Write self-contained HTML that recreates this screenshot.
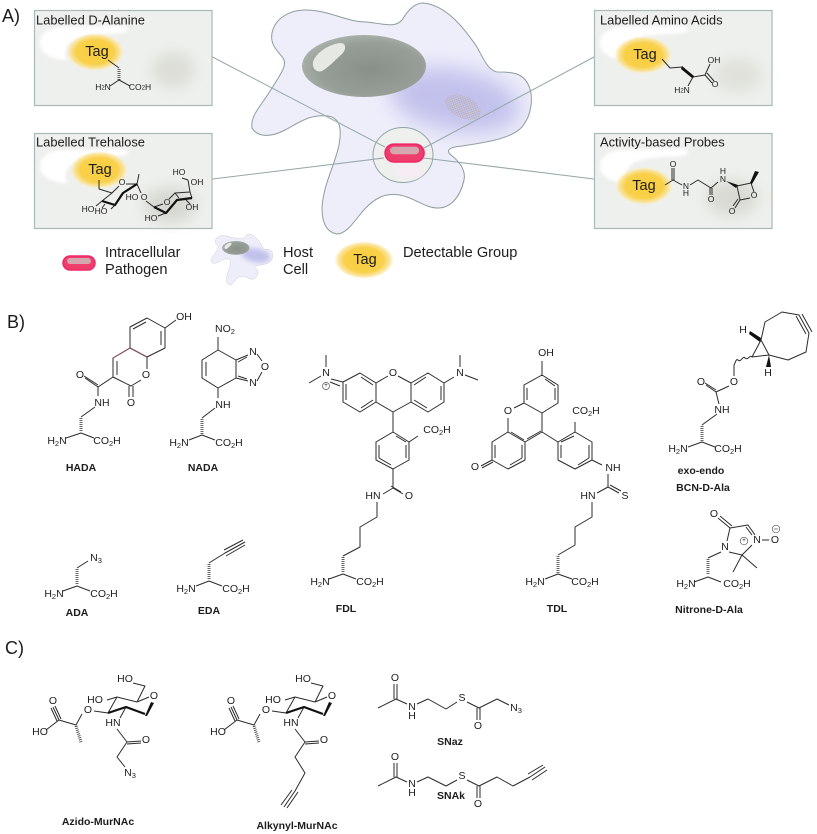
<!DOCTYPE html>
<html><head><meta charset="utf-8"><style>
html,body{margin:0;padding:0;background:#fff}
svg{display:block;filter:blur(.35px)}
text{font-family:"Liberation Sans",sans-serif;fill:#1c1c1c}
.t{font-size:10.5px;text-anchor:middle;dominant-baseline:central}
.b{font-size:10.5px;font-weight:bold;text-anchor:middle;dominant-baseline:central}
.h{font-size:12.900px}
.l{font-size:14.600px}
.n{font-size:18px}
.g{font-size:14.500px;text-anchor:middle;dominant-baseline:central}
.s{font-size:7.500px}
.m{fill:none;stroke:#2b2b2b;stroke-width:1;stroke-linejoin:round}
.w{fill:none;stroke:#111;stroke-width:2.200;stroke-linejoin:round}
.x{fill:none;stroke:#333;stroke-width:3;stroke-dasharray:.8 1.2}
.f{fill:#111;stroke:none}
.c{fill:none;stroke:#555;stroke-width:.7}
.ln{stroke:#96a8a8;stroke-width:1;fill:none}
</style></head><body>
<svg width="817" height="834" viewBox="0 0 817 834" xmlns="http://www.w3.org/2000/svg">
<defs>
<filter id="b6" x="-60%" y="-60%" width="220%" height="220%"><feGaussianBlur stdDeviation="7"/></filter>
<filter id="b12" x="-50%" y="-50%" width="200%" height="200%"><feGaussianBlur stdDeviation="11"/></filter>
<filter id="b2" x="-50%" y="-50%" width="200%" height="200%"><feGaussianBlur stdDeviation="1.500"/></filter>
<radialGradient id="tag"><stop offset="0" stop-color="#f8cd3c"/><stop offset=".65" stop-color="#f9d04a"/><stop offset=".87" stop-color="#fbe397" stop-opacity=".85"/><stop offset="1" stop-color="#fdf0c4" stop-opacity="0"/></radialGradient>
<radialGradient id="nuc" cx=".55" cy=".55" r=".6"><stop offset="0" stop-color="#899089"/><stop offset=".7" stop-color="#979e98"/><stop offset="1" stop-color="#aeb5af"/></radialGradient>
<pattern id="dots" width="3" height="3" patternUnits="userSpaceOnUse"><circle cx=".8" cy=".8" r=".6" fill="#b5a88f"/><circle cx="2.300" cy="2.300" r=".6" fill="#b5a88f"/></pattern>
<clipPath id="cc"><path d="M272 33C275 18 290 10 305 10C330 10 345 22 367 22C385 24 395 28 402 20C408 10 415 3 423 3C445 5 462 25 477 47C484 60 488 70 497 72C510 72 522 72 528 84C534 96 532 115 522 127C510 140 480 143 462 146C450 147 445 150 451 155C460 162 466 170 464 180C460 198 450 208 438 208C425 208 415 198 400 195C385 193 375 197 362 212C352 225 345 234 337 234C325 232 322 220 322 208C323 185 335 165 339 145C342 128 340 118 328 116C310 114 300 122 285 130C272 137 258 138 252 128C250 115 262 105 272 88C280 75 288 65 283 58C277 50 270 45 272 33Z"/></clipPath>
<g id="cell">
<path d="M272 33C275 18 290 10 305 10C330 10 345 22 367 22C385 24 395 28 402 20C408 10 415 3 423 3C445 5 462 25 477 47C484 60 488 70 497 72C510 72 522 72 528 84C534 96 532 115 522 127C510 140 480 143 462 146C450 147 445 150 451 155C460 162 466 170 464 180C460 198 450 208 438 208C425 208 415 198 400 195C385 193 375 197 362 212C352 225 345 234 337 234C325 232 322 220 322 208C323 185 335 165 339 145C342 128 340 118 328 116C310 114 300 122 285 130C272 137 258 138 252 128C250 115 262 105 272 88C280 75 288 65 283 58C277 50 270 45 272 33Z" fill="#eeeefb" stroke="#8d9c9c" stroke-width="1"/>
<g clip-path="url(#cc)"><ellipse cx="455" cy="100" rx="66" ry="31" transform="rotate(10 455 100)" fill="#c2c1ec" filter="url(#b12)"/></g>
<ellipse cx="364" cy="66" rx="62" ry="31" fill="url(#nuc)"/>
<path d="M313 62C316 52 330 44 340 43C347 43 346 50 342 54C335 60 328 68 322 71C316 73 312 68 313 62Z" fill="#e6e9e3"/>
</g>
<g id="box"><rect x=".5" y=".5" width="177.500" height="95" fill="#eef0ed" stroke="#a9b9b5" stroke-width="1.200"/>
<path d="M6 33C6 22 18 17 30 17L90 16Q96 17 92 22C85 25 55 22 40 30C30 36 30 45 34 50C20 50 6 45 6 33Z" fill="#fff" filter="url(#b2)"/></g>
<g id="path"><rect x="1" y="1" width="32" height="14" rx="7" fill="#ee3f6c" stroke="#f0296a" stroke-width="1.500"/><rect x="5" y="3" width="24" height="6" rx="3" fill="#d4a8ae"/></g>
</defs>

<!-- Panel A -->
<use href="#box" x="34" y="10"/><ellipse cx="173" cy="70" rx="22" ry="18" fill="#dcded7" filter="url(#b6)"/>
<use href="#box" x="34" y="133"/><ellipse cx="170" cy="205" rx="26" ry="18" fill="#d6d8d1" filter="url(#b6)"/>
<use href="#box" x="594" y="10"/><ellipse cx="738" cy="75" rx="24" ry="17" fill="#dfe1da" filter="url(#b6)"/>
<use href="#box" x="594" y="133"/><ellipse cx="732" cy="198" rx="26" ry="18" fill="#d8dad3" filter="url(#b6)"/>

<use href="#cell"/>
<ellipse cx="463" cy="107" rx="19" ry="11" transform="rotate(25 463 107)" fill="url(#dots)"/>
<ellipse cx="403" cy="155" rx="30" ry="27.500" fill="#eef0ee" stroke="#93a5a5" stroke-width="1"/>
<ellipse cx="410" cy="172" rx="14" ry="7" fill="#f6ecf3" filter="url(#b2)"/>
<path class="ln" d="M212.500 57L385 147M212.500 179L384 158M594 57L424 148M594 179L424 158"/>
<use href="#path" transform="translate(384 143) scale(1.210 1.250)"/>

<text class="h" x="36" y="24.500">Labelled D-Alanine</text>
<text class="h" x="36" y="146.500">Labelled Trehalose</text>
<text class="h" x="600" y="24.500">Labelled Amino Acids</text>
<text class="h" x="600" y="146.500">Activity-based Probes</text>
<text class="n" x="2" y="22">A)</text>
<text class="n" x="7" y="328">B)</text>
<text class="n" x="5" y="654">C)</text>

<ellipse cx="95" cy="52" rx="29" ry="19" fill="url(#tag)"/><text class="g" x="97" y="52">Tag</text>
<ellipse cx="99" cy="170" rx="29" ry="19" fill="url(#tag)"/><text class="g" x="100" y="170">Tag</text>
<ellipse cx="643" cy="55" rx="29" ry="19" fill="url(#tag)"/><text class="g" x="645" y="55">Tag</text>
<ellipse cx="644" cy="186" rx="29" ry="19" fill="url(#tag)"/><text class="g" x="644" y="186">Tag</text>

<!-- Box1 molecule -->
<path class="m" d="M108 60L119 68M110 86L119 80L130 86"/><path class="x" d="M119 69V80"/>
<text class="t" x="103" y="87" style="font-size:8.500px">H<tspan style="font-size:6px" dy="1.500">2</tspan><tspan dy="-1.500">N</tspan></text>
<text class="t" x="140" y="87" style="font-size:8.500px">CO<tspan style="font-size:6px" dy="1.500">2</tspan><tspan dy="-1.500">H</tspan></text>
<!-- Box2 molecule -->
<path class="m" d="M99 180V189L112 193M112 193L102 201M112 193L119 186M126 184L137 184L139 174M137 184L141 193M102 201L96 206M105 204L102 208M115 205L111 209M123 193L120 196M146 201L154 207M154 207L163 204M169 199L175 193L190 192L192 198M175 193L179 198M188 180L182 178M188 180L190 192M186 200L190 204M166 213L158 216"/>
<path class="w" d="M102 201L115 205L123 193L137 184M154 207L166 213L177 200L192 198"/>
<text class="t" style="font-size:8.500px" x="122" y="182">O</text><text class="t" style="font-size:8.500px" x="132" y="197">HO</text><text class="t" style="font-size:8.500px" x="144" y="197">O</text><text class="t" style="font-size:8.500px" x="101" y="211">HO</text><text class="t" style="font-size:8.500px" x="88" y="209">HO</text><text class="t" style="font-size:8.500px" x="167" y="202">O</text><text class="t" style="font-size:8.500px" x="179" y="172">HO</text><text class="t" style="font-size:8.500px" x="197" y="182">OH</text><text class="t" style="font-size:8.500px" x="192" y="207">OH</text><text class="t" style="font-size:8.500px" x="151" y="218">HO</text>
<!-- Box3 molecule -->
<path class="m" d="M662 59L670 68L682 67M693 77L705 75L710 64M705 75L712 83M707 73L714 81M693 77L688 86"/><path class="f" d="M682 66L694 76L692 78L681 69Z"/>
<text class="t" style="font-size:8.500px" x="714" y="60">OH</text><text class="t" style="font-size:8.500px" x="715" y="84">O</text>
<text class="t" x="682" y="90" style="font-size:8.500px">H<tspan style="font-size:6px" dy="1.500">2</tspan><tspan dy="-1.500">N</tspan></text>
<!-- Box4 molecule -->
<path class="m" d="M665 185L673 180L682 185M672 180V168M674 180V168M690 185L698 180L711 188M710 188V195M712 188V195M711 188L718 182M737 186L751 183L754 192M750 198L740 200L737 186M740 200L735 208M738 199L733 206"/>
<path class="f" d="M726 181L738 185L736 188Z M750 183L755 171L759 172L752 184Z"/>
<text class="t" style="font-size:8.500px" x="673" y="164">O</text><text class="t" style="font-size:8.500px" x="686" y="186">N</text><text class="t" style="font-size:8.500px" x="686" y="193">H</text><text class="t" style="font-size:8.500px" x="711" y="199">O</text><text class="t" style="font-size:8.500px" x="723" y="179">N</text><text class="t" style="font-size:8.500px" x="723" y="171">H</text><text class="t" style="font-size:8.500px" x="754" y="195">O</text><text class="t" style="font-size:8.500px" x="732" y="211">O</text>

<!-- Legend -->
<use href="#path" x="62" y="255"/>
<text class="l" x="105" y="257">Intracellular</text><text class="l" x="105" y="274">Pathogen</text>
<use href="#cell" transform="translate(155.300 233.300) scale(.221)"/>
<text class="l" x="283" y="257">Host</text><text class="l" x="283" y="274">Cell</text>
<ellipse cx="364" cy="260" rx="30" ry="19" fill="url(#tag)"/><text class="g" x="365" y="260">Tag</text>
<text class="l" x="403" y="257">Detectable Group</text>

<!-- HADA -->
<path class="m" d="M130 327L147 318L165 328V348L147 357L130 348ZM133 329L146 322M161 331V345M147 357V369M165 328L176 320M130 348L113 358V377L131 386L141 380M117 361V375M129 386V397M133 386V397M113 377L98 387L85 378M98 385L84 376M98 387V396M95 407L81 417"/>
<path d="M113 358L130 348L147 357" fill="none" stroke="#8a4a62" stroke-width="1"/>
<path class="x" d="M81 418V432"/><path class="m" d="M66 438L81 433L94 438"/>
<text class="t" x="184" y="317">OH</text><text class="t" x="146" y="375">O</text><text class="t" x="131" y="403">O</text><text class="t" x="80" y="375">O</text><text class="t" x="102" y="403">NH</text>
<text class="t" x="57" y="441">H<tspan class="s" dy="2">2</tspan><tspan dy="-2">N</tspan></text><text class="t" x="107" y="441">CO<tspan class="s" dy="2">2</tspan><tspan dy="-2">H</tspan></text>
<text class="b" x="81" y="468">HADA</text>
<!-- NADA -->
<path class="m" d="M218 350L202 360V378L218 388L236 378V360ZM206 362V376M218 350V337M236 360L248 355M238 362L247 357M236 378L248 381M238 376L247 379M257 354L262 361M257 381L262 372M218 388V398M215 408L202 418"/>
<path class="x" d="M202 419V434"/><path class="m" d="M189 440L202 435L215 440"/>
<text class="t" x="225" y="329">NO<tspan class="s" dy="2">2</tspan></text><text class="t" x="253" y="352">N</text><text class="t" x="265" y="367">O</text><text class="t" x="253" y="383">N</text><text class="t" x="223" y="405">NH</text>
<text class="t" x="179" y="443">H<tspan class="s" dy="2">2</tspan><tspan dy="-2">N</tspan></text><text class="t" x="229" y="443">CO<tspan class="s" dy="2">2</tspan><tspan dy="-2">H</tspan></text>
<text class="b" x="203" y="468">NADA</text>
<!-- ADA -->
<path class="m" d="M88 561L77 568"/><path class="x" d="M77 569V585"/><path class="m" d="M63 591L77 586L90 591"/>
<text class="t" x="96" y="558">N<tspan class="s" dy="2">3</tspan></text><text class="t" x="54" y="594">H<tspan class="s" dy="2">2</tspan><tspan dy="-2">N</tspan></text><text class="t" x="104" y="594">CO<tspan class="s" dy="2">2</tspan><tspan dy="-2">H</tspan></text>
<text class="b" x="77" y="613">ADA</text>
<!-- EDA -->
<path class="m" d="M209 563L225 553L245 542M224 550L243 540M226 556L245 545"/><path class="x" d="M209 564V580"/><path class="m" d="M196 586L209 581L222 586"/>
<text class="t" x="186" y="589">H<tspan class="s" dy="2">2</tspan><tspan dy="-2">N</tspan></text><text class="t" x="236" y="589">CO<tspan class="s" dy="2">2</tspan><tspan dy="-2">H</tspan></text>
<text class="b" x="209" y="611">EDA</text>
<!-- FDL -->
<path class="m" d="M326 355V367M321 376L309 383M331 379L343 382M330 382L340 386M343 382L360 373L376 383V402L360 412L343 402ZM346 384V400M361 377L373 385M361 408L373 400M376 383L388 376M398 376L411 383V402L393 412L376 402M411 383L428 373L444 383V402L428 412L411 402M414 385L426 377M441 386V400M414 400L427 408M444 383L454 377M465 375L478 380M460 355V367M393 412V432L409 442V460L393 469L376 460V442L393 432M396 436L406 442M406 445V458M391 465L379 458M379 445V458M409 442L418 436M393 469V488L383 494M393 488L403 494M391 486L401 492M377 502V517L360 527V547L343 556"/>
<path class="x" d="M343 557V573"/><path class="m" d="M329 579L343 574L356 579"/>
<circle class="c" cx="326" cy="386" r="3.500"/><text class="t" style="font-size:6px" x="326" y="386">+</text>
<text class="t" x="326" y="373">N</text><text class="t" x="393" y="373">O</text><text class="t" x="460" y="373">N</text><text class="t" x="437" y="430">CO<tspan class="s" dy="2">2</tspan><tspan dy="-2">H</tspan></text><text class="t" x="373" y="496">HN</text><text class="t" x="409" y="496">O</text>
<text class="t" x="320" y="582">H<tspan class="s" dy="2">2</tspan><tspan dy="-2">N</tspan></text><text class="t" x="370" y="582">CO<tspan class="s" dy="2">2</tspan><tspan dy="-2">H</tspan></text>
<text class="b" x="346" y="609">FDL</text>
<!-- TDL -->
<path class="m" d="M542 361V375L558 385V403L542 413L524 403V385L542 375M545 379L555 386M555 388V400M527 388V400M524 403L514 408M508 418V432L525 442L542 432V413M511 432L524 440M527 439L541 431M525 442V460L508 469L492 460V442L508 432M522 445V458M510 465L522 458M495 445V458M492 460L481 466M493 462L482 468M542 432L558 442V460L575 469L592 460V442L575 432L558 442M578 465L589 458M589 445V458M575 432V422M592 460L602 465M608 474V487L597 493M608 487L619 493M610 485L621 491M592 502V517L575 527V545L558 555M561 445V458M561 442L574 436"/>
<path class="x" d="M558 556V573"/><path class="m" d="M545 579L558 574L572 579"/>
<text class="t" x="546" y="353">OH</text><text class="t" x="508" y="411">O</text><text class="t" x="475" y="467">O</text><text class="t" x="586" y="411">CO<tspan class="s" dy="2">2</tspan><tspan dy="-2">H</tspan></text><text class="t" x="613" y="468">NH</text><text class="t" x="625" y="496">S</text><text class="t" x="588" y="496">HN</text>
<text class="t" x="535" y="582">H<tspan class="s" dy="2">2</tspan><tspan dy="-2">N</tspan></text><text class="t" x="585" y="582">CO<tspan class="s" dy="2">2</tspan><tspan dy="-2">H</tspan></text>
<text class="b" x="557" y="609">TDL</text>
<!-- BCN -->
<path class="m" d="M761 340L765 322L782 312L799 315L809 333L806 352L788 360L769 355L761 340L752 357L769 355M796 316L806 334M802 314L812 332M752 357C750 354 748 361 745 358C743 355 741 363 738 360C736 358 735 364 734 365V376M729 386L716 392L706 385M716 390L705 383M716 392L719 404M717 414L702 425"/>
<path class="f" d="M761 338L750 331L749 334L760 342Z M769 355L766 367L771 367Z"/>
<path class="x" d="M702 426V441"/><path class="m" d="M688 447L702 442L715 447"/>
<text class="t" x="743" y="330">H</text><text class="t" x="768" y="373">H</text><text class="t" x="734" y="382">O</text><text class="t" x="701" y="382">O</text><text class="t" x="722" y="410">NH</text>
<text class="t" x="678" y="449">H<tspan class="s" dy="2">2</tspan><tspan dy="-2">N</tspan></text><text class="t" x="728" y="449">CO<tspan class="s" dy="2">2</tspan><tspan dy="-2">H</tspan></text>
<text class="b" x="701" y="471">exo-endo</text><text class="b" x="703" y="488">BCN-D-Ala</text>
<!-- Nitrone -->
<path class="m" d="M718 518L730 528M720 516L732 526M730 528L748 525L755 535M746 527L752 535M730 528L727 541M729 552L742 555L752 545M742 555L733 572M742 555L757 568M721 552L708 558M762 540H769"/>
<path class="x" d="M708 559V575"/><path class="m" d="M694 582L708 577L721 582"/>
<circle class="c" cx="744" cy="541" r="3.800"/><text class="t" style="font-size:6px" x="744" y="541">+</text>
<circle class="c" cx="776" cy="529" r="3.800"/><path class="c" d="M774 529H778"/>
<text class="t" x="714" y="514">O</text><text class="t" x="757" y="540">N</text><text class="t" x="775" y="540">O</text><text class="t" x="725" y="547">N</text>
<text class="t" x="686" y="584">H<tspan class="s" dy="2">2</tspan><tspan dy="-2">N</tspan></text><text class="t" x="737" y="584">CO<tspan class="s" dy="2">2</tspan><tspan dy="-2">H</tspan></text>
<text class="b" x="709" y="610">Nitrone-D-Ala</text>

<!-- Azido-MurNAc -->
<path class="m" d="M137 702L145 686L133 683M137 702L149 697M137 702L117 697L108 713M117 697L107 700M108 713L94 711M82 714L76 725L59 720L53 707M61 719L55 706M57 721L51 708M59 720L46 730M126 707L120 718M117 729L127 742L117 757L125 767M127 742L141 741M127 744L141 743"/>
<path class="w" d="M108 713L126 707L145 714"/><path class="f" d="M145 716L151 702L154 703L147 716Z"/>
<path class="x" d="M76 726L81 742"/>
<text class="t" x="125" y="679">HO</text><text class="t" x="154" y="696">O</text><text class="t" x="95" y="700">HO</text><text class="t" x="88" y="710">O</text><text class="t" x="53" y="701">O</text><text class="t" x="40" y="732">HO</text><text class="t" x="113" y="723">HN</text><text class="t" x="146" y="740">O</text><text class="t" x="130" y="773">N<tspan class="s" dy="2">3</tspan></text>
<text class="b" x="98" y="822">Azido-MurNAc</text>
<!-- Alkynyl-MurNAc -->
<path class="m" d="M315 702L323 686L311 683M315 702L327 697M315 702L295 697L286 713M295 697L285 700M286 713L272 711M260 714L254 725L237 720L231 707M239 719L233 706M235 721L229 708M237 720L224 730M304 707L298 718M295 729L305 742L295 757L305 773L295 791L284 807M305 742L319 741M305 744L319 743M292 790L281 805M298 792L287 808"/>
<path class="w" d="M286 713L304 707L323 714"/><path class="f" d="M323 716L329 702L332 703L325 716Z"/>
<path class="x" d="M254 726L259 742"/>
<text class="t" x="303" y="679">HO</text><text class="t" x="332" y="696">O</text><text class="t" x="273" y="700">HO</text><text class="t" x="266" y="710">O</text><text class="t" x="231" y="701">O</text><text class="t" x="218" y="732">HO</text><text class="t" x="291" y="723">HN</text><text class="t" x="324" y="740">O</text>
<text class="b" x="297" y="826">Alkynyl-MurNAc</text>
<!-- SNaz -->
<path class="m" d="M378 708L396 699L407 704M394 699V684M397 699V684M417 704L428 699L446 709L457 702M467 702L479 708L497 699L509 705M477 708V720M480 708V720"/>
<text class="t" x="395" y="678">O</text><text class="t" x="412" y="707">N</text><text class="t" x="412" y="716">H</text><text class="t" x="462" y="698">S</text><text class="t" x="478" y="726">O</text><text class="t" x="516" y="708">N<tspan class="s" dy="2">3</tspan></text>
<text class="b" x="450" y="742">SNaz</text>
<!-- SNAk -->
<path class="m" d="M378 786L396 777L407 782M394 777V763M397 777V763M417 782L428 777L446 786L457 780M467 780L479 786L497 777L513 786L530 777L545 767M477 786V798M480 786V798M528 774L543 765M532 780L547 770"/>
<text class="t" x="395" y="757">O</text><text class="t" x="412" y="784">N</text><text class="t" x="412" y="793">H</text><text class="t" x="462" y="776">S</text><text class="t" x="478" y="804">O</text>
<text class="b" x="451" y="796">SNAk</text>
</svg>
</body></html>
